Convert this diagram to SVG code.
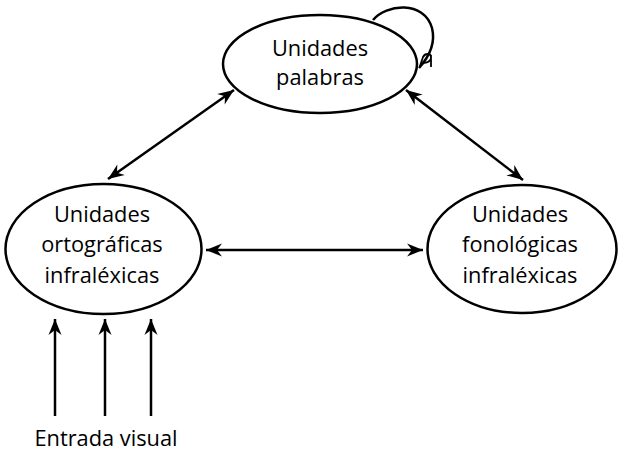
<svg xmlns="http://www.w3.org/2000/svg" width="619" height="454" viewBox="0 0 619 454">
<style>
.node{fill:#fff;stroke:#000;stroke-width:2.5}
.lbl{font-family:"Open Sans","Noto Sans","Liberation Sans",sans-serif;font-size:21.8px;fill:#000;text-anchor:middle}
.conn{fill:none;stroke:#000;stroke-width:2.5}
</style>
<defs>
<marker id="ah" markerUnits="userSpaceOnUse" markerWidth="20" markerHeight="16" viewBox="-17 -8 20 16" refX="0" refY="0" orient="auto-start-reverse">
<path d="M0,0 L-16,-6.5 L-11,0 L-16,6.5 Z" fill="#000"/>
</marker>
</defs>
<rect width="619" height="454" fill="#fff"/>
<g id="connectors">
<line class="conn" x1="108" y1="179" x2="234" y2="90" marker-start="url(#ah)" marker-end="url(#ah)"/>
<line class="conn" x1="406" y1="90" x2="523" y2="180" marker-start="url(#ah)" marker-end="url(#ah)"/>
<line class="conn" x1="206" y1="250" x2="423" y2="250" marker-start="url(#ah)" marker-end="url(#ah)"/>
<line class="conn" x1="55" y1="416" x2="55" y2="319" marker-end="url(#ah)"/>
<line class="conn" x1="105" y1="416" x2="105" y2="319" marker-end="url(#ah)"/>
<line class="conn" x1="151" y1="416" x2="151" y2="319" marker-end="url(#ah)"/>
<path class="conn" d="M373,20 C386,4 424,0 432,28 C436,44 428,58 419,68"/>
<path d="M420,66 L423,57 C425,53 431,53 431,57 C431,62 425,64 421,62 M431,55 L431,67" fill="none" stroke="#000" stroke-width="1.8"/>
</g>
<g id="n_palabras">
<ellipse class="node" cx="320" cy="64" rx="97" ry="49"/>
<text class="lbl" x="320" y="56">Unidades</text>
<text class="lbl" x="320" y="85">palabras</text>
</g>
<g id="n_ortograficas">
<ellipse class="node" cx="103.5" cy="249" rx="98" ry="65"/>
<text class="lbl" x="102" y="222">Unidades</text>
<text class="lbl" x="102" y="252">ortográficas</text>
<text class="lbl" x="102" y="283">infraléxicas</text>
</g>
<g id="n_fonologicas">
<ellipse class="node" cx="522" cy="249" rx="94.5" ry="64"/>
<text class="lbl" x="520" y="222">Unidades</text>
<text class="lbl" x="520" y="252">fonológicas</text>
<text class="lbl" x="520" y="283">infraléxicas</text>
</g>
<g id="n_entrada">
<text class="lbl" x="106" y="446">Entrada visual</text>
</g>
</svg>
